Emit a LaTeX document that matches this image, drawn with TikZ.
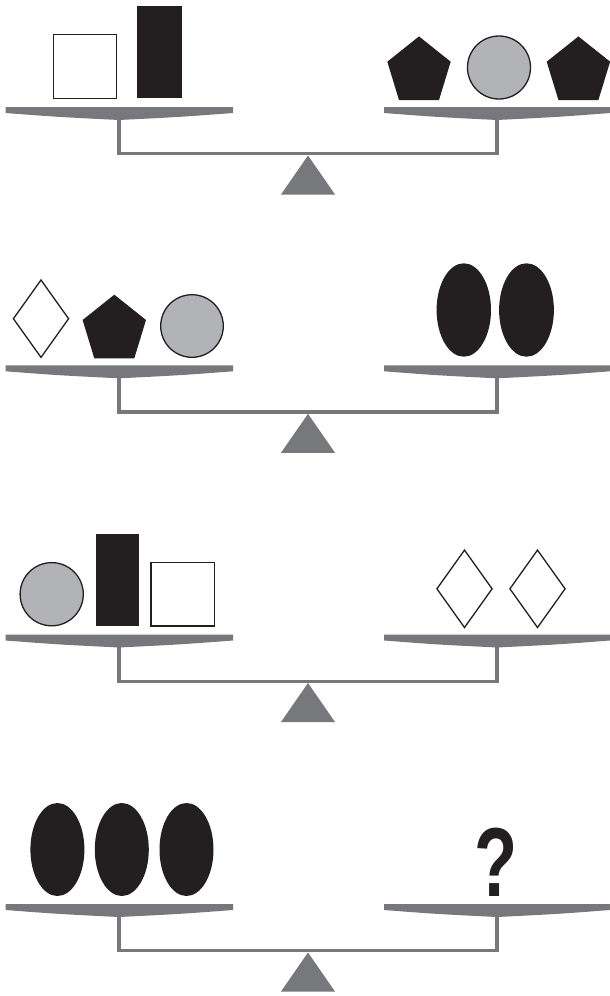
\documentclass[tikz,border=0pt]{standalone}
\usepackage{fontspec}
\setmainfont{Liberation Sans}
\definecolor{pangray}{RGB}{119,120,123}
\definecolor{ballgray}{RGB}{178,179,182}
\definecolor{inkblack}{RGB}{35,31,32}
\tikzset{
  panshape/.style={fill=pangray,draw=none},
  beam/.style={draw=pangray,line width=3.3pt,line join=miter},
  fulcrum/.style={fill=pangray,draw=none},
  whitebox/.style={fill=white,draw=inkblack,line width=1.3pt},
  blackbox/.style={fill=inkblack,draw=none},
  greyball/.style={fill=ballgray,draw=inkblack,line width=1.3pt},
  blackegg/.style={fill=inkblack,draw=none},
  gem/.style={fill=white,draw=inkblack,line width=1.3pt,line join=miter},
  penta/.style={fill=inkblack,draw=none}
}
% #1 = top y of pans
\newcommand\mybalance[1]{%
  \fill[panshape] (5.5,#1) -- (233,#1) -- (233,#1+6) .. controls (180,#1+10) .. (119,#1+13) .. controls (58,#1+10) .. (5.5,#1+6) -- cycle;
  \fill[panshape] (384,#1) -- (610,#1) -- (610,#1+6) .. controls (558,#1+10) .. (497,#1+13) .. controls (436,#1+10) .. (384,#1+6) -- cycle;
  \draw[beam] (119,#1+12) -- (119,#1+46.7) -- (497,#1+46.7) -- (497,#1+12);
  \fill[fulcrum] (308,#1+48.5) -- (335,#1+87.5) -- (281,#1+87.5) -- cycle;
}
% pentagon: #1 = centre x, #2 = bottom y
\newcommand\mypenta[2]{%
  \fill[penta] (#1,#2-63.6) -- (#1+31.7,#2-38.3) -- (#1+20,#2) -- (#1-20,#2) -- (#1-31.7,#2-38.3) -- cycle;
}
% diamond: #1 = centre x, #2 = centre y
\newcommand\mygem[2]{%
  \draw[gem] (#1,#2-38.7) -- (#1+27.6,#2) -- (#1,#2+38.7) -- (#1-27.6,#2) -- cycle;
}
\begin{document}
\begin{tikzpicture}[x=1pt,y=-1pt]
\useasboundingbox (0,0) rectangle (610,996);
% ---------- balance 1 ----------
\mybalance{107}
\draw[whitebox] (53.3,34.3) rectangle (116.7,98.3);
\fill[blackbox] (137.3,6) rectangle (181.7,98.3);
\mypenta{419}{100}
\draw[greyball] (499,67.5) circle[radius=31.5];
\mypenta{578.4}{100}
% ---------- balance 2 ----------
\mybalance{365.3}
\mygem{41}{318.7}
\mypenta{114.3}{358.3}
\draw[greyball] (192,326) circle[radius=31.3];
\fill[blackegg] (463.8,310) ellipse[x radius=27.2,y radius=46.7];
\fill[blackegg] (526.5,310) ellipse[x radius=27.4,y radius=46.7];
% ---------- balance 3 ----------
\mybalance{634.5}
\draw[greyball] (51.7,594.2) circle[radius=31.6];
\fill[blackbox] (95.7,534.3) rectangle (139.3,626.3);
\draw[whitebox] (151,562.7) rectangle (214.3,626);
\mygem{464.5}{588.8}
\mygem{537.5}{588.8}
% ---------- balance 4 ----------
\mybalance{904}
\fill[blackegg] (57.4,849.5) ellipse[x radius=27,y radius=46.5];
\fill[blackegg] (121.8,849.5) ellipse[x radius=27,y radius=46.5];
\fill[blackegg] (186.5,849.5) ellipse[x radius=27,y radius=46.5];
\node[anchor=base,inner sep=0pt,text=inkblack,font=\fontsize{98}{98}\selectfont\bfseries] (qmark) at (496,896) {\scalebox{0.72}[1]{?}};
\end{tikzpicture}
\end{document}
